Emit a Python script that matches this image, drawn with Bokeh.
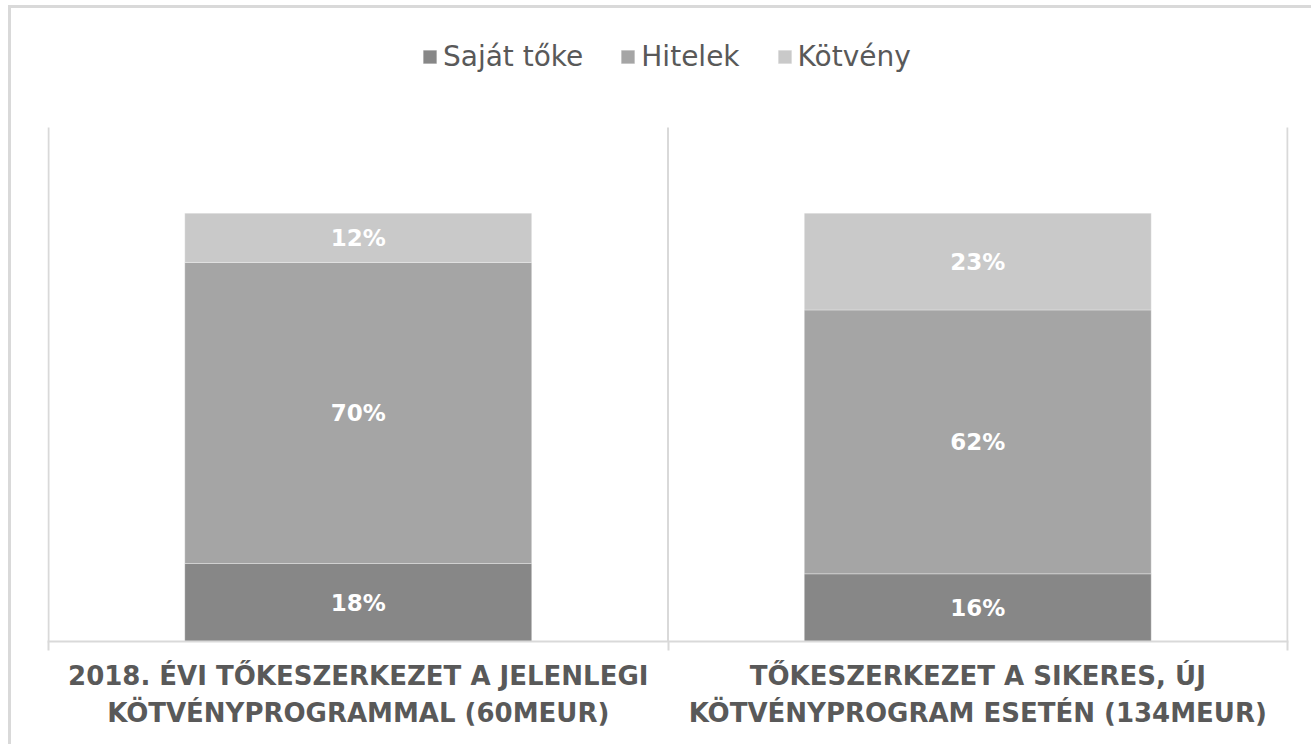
from bokeh.plotting import figure
from bokeh.models import (ColumnDataSource, FixedTicker, LabelSet, Legend, LegendItem,
                          Range1d)
from bokeh.core.properties import value
from bokeh.embed import file_html
from bokeh.resources import INLINE

# ---- data ----
categories = [
    "2018. ÉVI TŐKESZERKEZET A JELENLEGI\nKÖTVÉNYPROGRAMMAL (60MEUR)",
    "TŐKESZERKEZET A SIKERES, ÚJ\nKÖTVÉNYPROGRAM ESETÉN (134MEUR)",
]
series_names = ["Saját tőke", "Hitelek", "Kötvény"]
sajat_toke = [18.2, 15.8]
hitelek = [70.3, 61.6]
kotveny = [11.5, 22.6]
colors = ["#878787", "#a5a5a5", "#c9c9c9"]
y_axis_max = 120  # value-axis maximum (plot area top)

xpos = [i + 0.5 for i in range(len(categories))]
boundaries = list(range(len(categories) + 1))
series = [sajat_toke, hitelek, kotveny]

W, H = 1303, 739
# plot-area top sits 119px below the canvas top; the frame extends up to hold the legend
px_per_unit = 514 / y_axis_max
y_top = y_axis_max + 119 / px_per_unit
p = figure(width=W, height=H, output_backend="svg", toolbar_location=None,
           x_range=Range1d(-0.0016, 2.0016), y_range=Range1d(0, y_top),
           min_border_left=36, min_border_right=26, min_border_top=0,
           min_border_bottom=106)
p.outline_line_color = None
p.background_fill_color = "white"
p.border_fill_color = "white"
p.styles = {"border-top": "3px solid #d9d9d9", "border-left": "3px solid #d9d9d9",
            "margin-left": "8px", "margin-top": "5px"}

# vertical category separators (plot-area gridlines)
p.segment(x0=boundaries, y0=[0] * len(boundaries), x1=boundaries,
          y1=[y_axis_max] * len(boundaries), line_color="#d9d9d9", line_width=2)

renderers = []
base = [0.0] * len(categories)
lx, ly, lt = [], [], []
for name, vals, col in zip(series_names, series, colors):
    top = [b + v for b, v in zip(base, vals)]
    src = ColumnDataSource(dict(x=xpos, bottom=base, top=top))
    r = p.vbar(x="x", bottom="bottom", top="top", width=0.56, source=src,
               fill_color=col, line_color="white", line_alpha=0.3, line_width=1)
    renderers.append(r)
    for xv, b, v in zip(xpos, base, vals):
        lx.append(xv)
        ly.append(b + v / 2)
        lt.append(f"{round(v)}%")
    base = top

lab_src = ColumnDataSource(dict(x=lx, y=ly, text=lt))
p.add_layout(LabelSet(x="x", y="y", text="text", source=lab_src,
                      text_align="center", text_baseline="middle",
                      text_color="white", text_font=value("DejaVu Sans"),
                      text_font_style="bold", text_font_size="23px"))

# axes
p.yaxis.visible = False
p.ygrid.visible = False
p.xgrid.visible = False
xa = p.xaxis[0]
xa.ticker = FixedTicker(ticks=xpos, minor_ticks=boundaries)
xa.major_label_overrides = {xv: c for xv, c in zip(xpos, categories)}
xa.major_tick_line_color = None
xa.major_tick_out = 0
xa.major_tick_in = 0
xa.minor_tick_line_color = "#d9d9d9"
xa.minor_tick_line_width = 2
xa.minor_tick_out = 9
xa.minor_tick_in = 0
xa.axis_line_color = "#d9d9d9"
xa.axis_line_width = 2
xa.major_label_text_font = "DejaVu Sans"
xa.major_label_text_font_style = "bold"
xa.major_label_text_font_size = "26px"
xa.major_label_text_color = "#595959"
xa.major_label_text_line_height = 1.25
xa.major_label_standoff = 10

# legend (inside the frame's upper band)
items = [LegendItem(label=n, renderers=[r]) for n, r in zip(series_names, renderers)]
leg = Legend(items=items, orientation="horizontal", location=(374, 568),
             glyph_width=17, glyph_height=17, label_standoff=5, spacing=36,
             padding=0, margin=0, border_line_color=None,
             background_fill_alpha=0,
             label_text_font="DejaVu Sans", label_text_font_size="28px",
             label_text_color="#595959")
p.add_layout(leg, "center")

open("out.html", "w").write(file_html(p, INLINE))
